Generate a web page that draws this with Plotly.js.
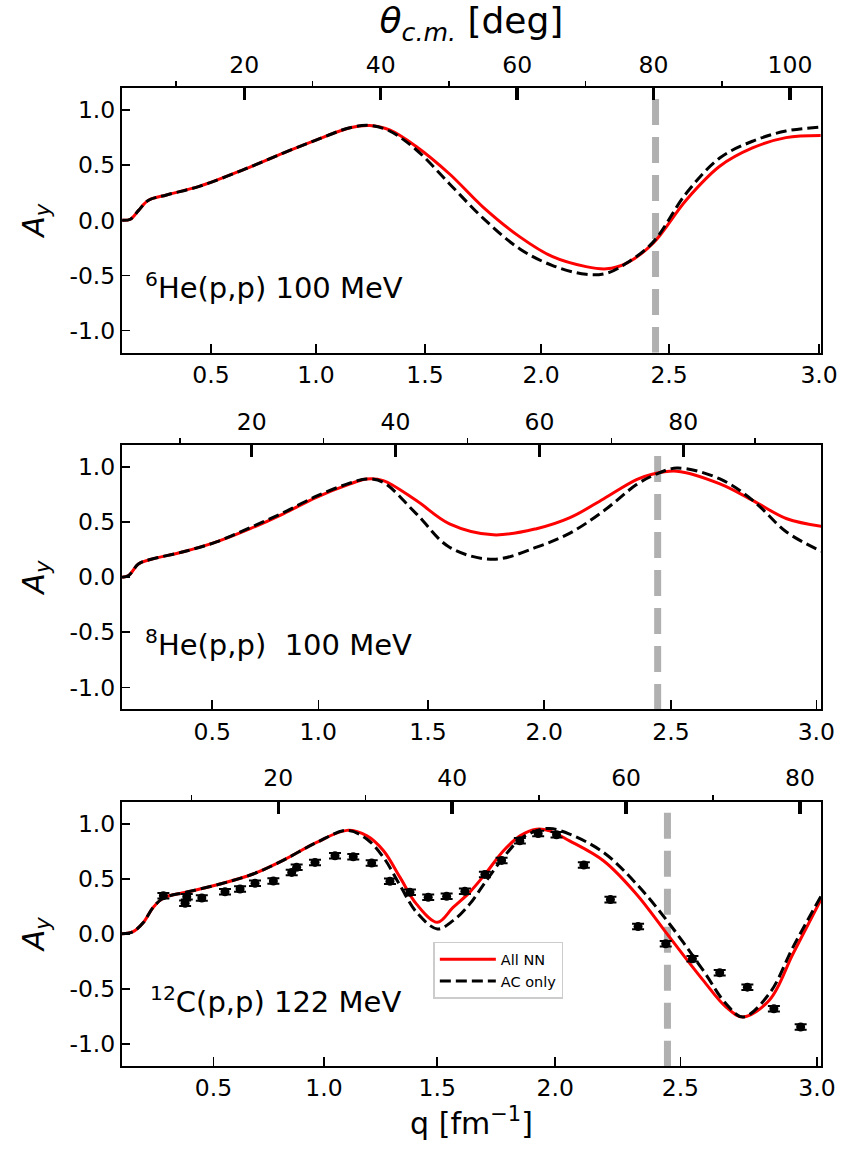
<!DOCTYPE html>
<html><head><meta charset="utf-8">
<script src="https://cdn.plot.ly/plotly-3.0.1.min.js"></script>
<style>html,body{margin:0;padding:0;background:#fff}</style>
</head><body><div id="chart" style="width:843px;height:1151px"></div>
<script>
// ---------- data (x = scattering angle theta_cm in degrees, linear axis) ----------
// 6He(p,p) 100 MeV
const theta6  = [2.1, 3.3, 4.5, 5.9, 8.6, 13.5, 19.9, 25.7, 30.6, 35.5, 38.4, 41.3, 45.2, 50.1, 55.0, 60.4, 65.2, 70.1, 73.1, 76.0, 79.9, 84.8, 89.7, 94.5, 99.4, 104.5];
const allNN6  = [0.0, 0.01, 0.09, 0.18, 0.23, 0.31, 0.46, 0.61, 0.73, 0.84, 0.86, 0.82, 0.67, 0.42, 0.12, -0.15, -0.33, -0.42, -0.44, -0.39, -0.21, 0.185, 0.49, 0.656, 0.75, 0.77];
const acOnly6 = [0.0, 0.01, 0.09, 0.18, 0.23, 0.31, 0.46, 0.61, 0.73, 0.84, 0.86, 0.81, 0.64, 0.33, 0.02, -0.26, -0.41, -0.49, -0.48, -0.39, -0.20, 0.246, 0.565, 0.717, 0.81, 0.845];

// 8He(p,p) 100 MeV
const theta8  = [2.0, 2.9, 4.25, 5.9, 10.5, 15.1, 19.8, 24.4, 29.0, 33.7, 36.0, 38.3, 42.9, 47.5, 53.6, 59.6, 64.25, 68.9, 73.5, 75.8, 79.1, 85.1, 89.7, 94.4, 99.2];
const allNN8  = [0.0, 0.015, 0.12, 0.16, 0.23, 0.32, 0.44, 0.575, 0.725, 0.847, 0.892, 0.877, 0.695, 0.484, 0.384, 0.44, 0.54, 0.71, 0.885, 0.937, 0.962, 0.847, 0.695, 0.53, 0.462];
const acOnly8 = [0.0, 0.015, 0.12, 0.16, 0.23, 0.32, 0.45, 0.585, 0.735, 0.855, 0.892, 0.86, 0.575, 0.272, 0.162, 0.272, 0.40, 0.60, 0.84, 0.922, 0.99, 0.892, 0.695, 0.408, 0.235];

// 12C(p,p) 122 MeV
const theta12  = [2.0, 3.3, 4.5, 5.6, 6.8, 9.5, 13.3, 17.1, 20.6, 24.4, 27.9, 30.2, 32.1, 34.0, 35.9, 38.3, 40.1, 42.0, 43.8, 45.9, 47.8, 49.7, 51.2, 53.5, 57.4, 61.2, 65.0, 68.85, 71.5, 73.45, 76.5, 79.2, 82.4];
const allNN12  = [0.0, 0.02, 0.105, 0.24, 0.326, 0.38, 0.453, 0.544, 0.67, 0.83, 0.94, 0.89, 0.755, 0.513, 0.27, 0.105, 0.24, 0.377, 0.544, 0.755, 0.89, 0.95, 0.936, 0.845, 0.664, 0.36, -0.03, -0.42, -0.665, -0.755, -0.60, -0.18, 0.31];
const acOnly12 = [0.0, 0.02, 0.105, 0.24, 0.326, 0.38, 0.453, 0.544, 0.67, 0.83, 0.94, 0.86, 0.694, 0.44, 0.196, 0.045, 0.12, 0.27, 0.47, 0.694, 0.86, 0.936, 0.957, 0.906, 0.74, 0.453, 0.09, -0.33, -0.635, -0.755, -0.54, -0.12, 0.34];

// 12C(p,p) 122 MeV experimental data
const thetaExp12 = [6.78, 9.28, 9.47, 11.2, 13.87, 15.6, 17.32, 19.43, 21.54, 22.11, 24.22, 26.52, 28.62, 30.74, 32.84, 35.14, 37.24, 39.36, 41.46, 43.76, 45.68, 47.78, 49.89, 52.0, 55.14, 58.2, 61.38, 64.56, 67.63, 70.77, 73.95, 77.0, 80.08];
const ayExp12    = [0.347, 0.278, 0.338, 0.326, 0.383, 0.408, 0.459, 0.48, 0.558, 0.604, 0.649, 0.71, 0.70, 0.643, 0.477, 0.377, 0.332, 0.341, 0.386, 0.54, 0.667, 0.845, 0.912, 0.90, 0.625, 0.311, 0.066, -0.09, -0.227, -0.353, -0.484, -0.68, -0.846];
const errExp12   = [0.025, 0.025, 0.025, 0.025, 0.025, 0.025, 0.025, 0.025, 0.025, 0.025, 0.025, 0.025, 0.025, 0.025, 0.025, 0.025, 0.025, 0.025, 0.025, 0.025, 0.025, 0.025, 0.025, 0.025, 0.025, 0.025, 0.025, 0.025, 0.025, 0.025, 0.025, 0.025, 0.025];

// ---------- axes ----------
const twoK = [3.80, 3.96, 4.575];            // q = 2k sin(theta/2), fm^-1, per panel
const thetaRanges = [[2.07, 104.55], [1.97, 99.15], [2.02, 82.42]];
const qTicks = [0.5, 1.0, 1.5, 2.0, 2.5, 3.0];
const qTickLabels = ['0.5', '1.0', '1.5', '2.0', '2.5', '3.0'];
const thetaMajor = [[20, 40, 60, 80, 100], [20, 40, 60, 80], [20, 40, 60, 80]];
const thetaMinor = [[10, 30, 50, 70, 90], [10, 30, 50, 70, 90], [10, 30, 50, 70]];
const ayTicks = [-1.0, -0.5, 0.0, 0.5, 1.0];
const ayTickLabels = ['-1.0', '-0.5', '0.0', '0.5', '1.0'];
const qCut = 2.45;
const cutSpan = [1.1, -1.2];
const panelLabels = ['<sup>6</sup>He(p,p) 100 MeV', '<sup>8</sup>He(p,p)  100 MeV', '<sup>12</sup>C(p,p) 122 MeV'];
const seriesNames = ['All NN', 'AC only'];

const FONT = 'DejaVu Sans, Verdana, sans-serif';
const TICKSIZE = 23.5;
const toTheta = (q, k2) => 2 * Math.asin(q / k2) * 180 / Math.PI;

const curves = [
  {theta: theta6, red: allNN6, black: acOnly6},
  {theta: theta8, red: allNN8, black: acOnly8},
  {theta: theta12, red: allNN12, black: acOnly12}
];
const domains = [[0.7294, 1.0], [0.3647, 0.635], [0.0, 0.2702]];

const traces = [];
const layout = {
  width: 843, height: 1151,
  margin: {l: 122, r: 22, t: 88, b: 85},
  paper_bgcolor: '#fff', plot_bgcolor: '#fff',
  font: {family: FONT, color: '#000', size: TICKSIZE},
  showlegend: true,
  legend: {x: 0.4454, y: 0.127, xanchor: 'left', yanchor: 'top', bgcolor: '#fff',
           bordercolor: '#cccccc', borderwidth: 1.5, font: {size: 14.5, family: FONT},
           tracegroupgap: 2, itemwidth: 56},
  annotations: []
};

for (let i = 0; i < 3; i++) {
  const xb = i === 0 ? 'x' : 'x' + (2 * i + 1);
  const xt = 'x' + (2 * i + 2);
  const yy = i === 0 ? 'y' : 'y' + (i + 1);
  const xbKey = i === 0 ? 'xaxis' : 'xaxis' + (2 * i + 1);
  const xtKey = 'xaxis' + (2 * i + 2);
  const yKey = i === 0 ? 'yaxis' : 'yaxis' + (i + 1);
  const thCut = toTheta(qCut, twoK[i]);

  // cutoff line (q axis layer, below the curves)
  traces.push({x: [thCut, thCut], y: cutSpan, xaxis: xb, yaxis: yy, mode: 'lines',
    line: {color: '#b0b0b0', width: 7, dash: '26px,12px'}, showlegend: false, hoverinfo: 'skip'});
  // red: all NN
  traces.push({x: curves[i].theta, y: curves[i].red, xaxis: xt, yaxis: yy, mode: 'lines',
    name: seriesNames[0], line: {color: '#ff0000', width: 3, shape: 'spline', smoothing: 1},
    showlegend: i === 2, legendrank: 1});
  // black dashed: AC only
  traces.push({x: curves[i].theta, y: curves[i].black, xaxis: xt, yaxis: yy, mode: 'lines',
    name: seriesNames[1], line: {color: '#000000', width: 3, dash: '11px,5px', shape: 'spline', smoothing: 1},
    showlegend: i === 2, legendrank: 2});

  layout[xbKey] = {
    domain: [0, 1], anchor: yy, range: thetaRanges[i], side: 'bottom',
    tickmode: 'array', tickvals: qTicks.map(q => toTheta(q, twoK[i])), ticktext: qTickLabels,
    ticks: 'inside', ticklen: 9, tickwidth: 1.5, tickcolor: '#000',
    showline: true, linewidth: 2, linecolor: '#000', showgrid: false, zeroline: false,
    tickfont: {size: TICKSIZE, family: FONT}
  };
  layout[xtKey] = {
    overlaying: xb, anchor: yy, side: 'top', range: thetaRanges[i],
    tickmode: 'array', tickvals: thetaMajor[i], ticktext: thetaMajor[i].map(String),
    ticks: 'inside', ticklen: 12, tickwidth: 3.5, tickcolor: '#000', ticklabelstandoff: 4,
    minor: {tickmode: 'array', tickvals: thetaMinor[i], ticks: 'outside', ticklen: 5, tickwidth: 1.5, tickcolor: '#000', showgrid: false},
    showline: true, linewidth: 2, linecolor: '#000', showgrid: false, zeroline: false,
    tickfont: {size: TICKSIZE, family: FONT}
  };
  layout[yKey] = {
    domain: domains[i], anchor: xb, range: [-1.2, 1.2],
    tickmode: 'array', tickvals: ayTicks, ticktext: ayTickLabels,
    ticks: 'inside', ticklen: 8, tickwidth: 1.5, tickcolor: '#000',
    showline: true, mirror: true, linewidth: 2, linecolor: '#000', showgrid: false, zeroline: false,
    tickfont: {size: TICKSIZE, family: FONT},
    title: {text: '<i>A<sub>y</sub></i>', font: {size: 30, family: FONT}, standoff: 16}
  };
  layout.annotations.push({
    xref: xb + ' domain', yref: yy, x: i === 2 ? 0.037 : 0.03, y: -0.6,
    xanchor: 'left', yanchor: 'middle', showarrow: false,
    text: panelLabels[i], font: {size: 29, family: FONT, color: '#000'}
  });
}

// experimental points (12C)
traces.push({x: thetaExp12, y: ayExp12, xaxis: 'x6', yaxis: 'y3', mode: 'markers',
  error_y: {type: 'data', array: errExp12, visible: true, color: '#000', thickness: 2, width: 6},
  marker: {color: '#000', size: 9}, showlegend: false, hoverinfo: 'skip'});

layout.xaxis2.title = {text: '<i>θ</i><sub><i>c.m.</i></sub> [deg]', font: {size: 36, family: FONT}, standoff: 10};
layout.xaxis5.title = {text: 'q [fm<sup>−1</sup>]', font: {size: 30, family: FONT}, standoff: 10};

Plotly.newPlot('chart', traces, layout, {displayModeBar: false, staticPlot: true});
</script></body></html>
